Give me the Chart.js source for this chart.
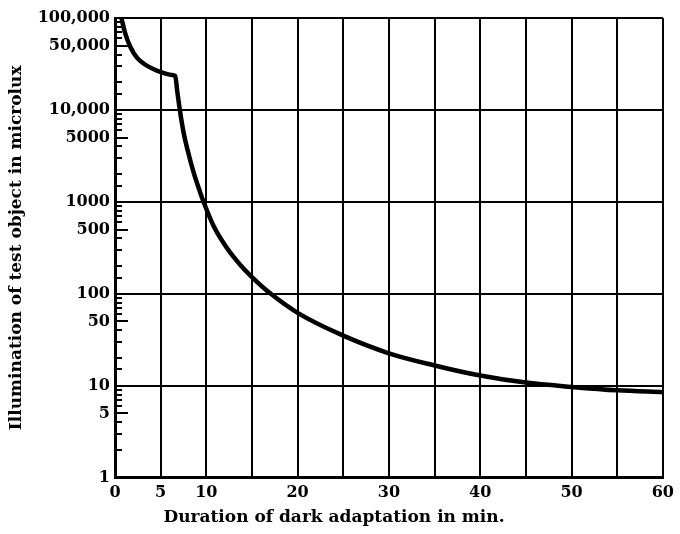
<!DOCTYPE html>
<html>
<head>
<meta charset="utf-8">
<script src="https://cdn.jsdelivr.net/npm/chart.js@4/dist/chart.umd.min.js"></script>
<style>
html, body { margin: 0; padding: 0; background: #fff; }
</style>
</head>
<body>
<canvas id="adaptation-chart" width="680" height="534"></canvas>
<script>
// curve (minutes, microlux)
var minutes = [0.7, 1.1, 1.7, 2.4, 3.2, 4.3, 5.2, 6.2, 6.6, 6.8, 7.1, 7.5, 8.0, 8.6, 9.3, 9.7, 10.8, 12.2, 13.7, 15, 17, 20, 25, 30, 35, 40, 45, 50, 55, 60];
var microlux = [100000, 69000, 48000, 37000, 31600, 27500, 25400, 24000, 23400, 16500, 10000, 5750, 3500, 2100, 1290, 1000, 545, 320, 207, 152, 101, 62, 35, 22.5, 16.6, 12.9, 10.8, 9.7, 8.9, 8.5];

var xLabelTicks = [0, 5, 10, 20, 30, 40, 50, 60];
var yLabelTicks = [1, 5, 10, 50, 100, 500, 1000, 5000, 10000, 50000, 100000];
var yLabelText = ['1', '5', '10', '50', '100', '500', '1000', '5000', '10,000', '50,000', '100,000'];

var serif = 'DejaVu Serif';

function mantissa(v) {
    return Math.round(v / Math.pow(10, Math.floor(Math.log10(v) + 1e-9)));
}

// short inward tick marks on the left axis for the log subdivisions
var minorTicks = {
    id: 'minorTicks',
    afterDraw: function (chart) {
        var y = chart.scales.y;
        var left = chart.chartArea.left;
        var ctx = chart.ctx;
        ctx.save();
        ctx.strokeStyle = '#000';
        ctx.lineWidth = 2;
        y.ticks.forEach(function (t) {
            var m = mantissa(t.value);
            if (m === 1) return;
            var len = m === 5 ? 13 : 7;
            var py = Math.round(y.getPixelForValue(t.value));
            ctx.beginPath();
            ctx.moveTo(left, py);
            ctx.lineTo(left + len, py);
            ctx.stroke();
        });
        ctx.restore();
    }
};

var points = minutes.map(function (m, i) { return { x: m, y: microlux[i] }; });

new Chart(document.getElementById('adaptation-chart'), {
    type: 'line',
    data: {
        datasets: [{
            data: points,
            borderColor: '#000',
            borderWidth: 4.5,
            pointRadius: 0,
            cubicInterpolationMode: 'monotone',
            fill: false
        }]
    },
    options: {
        responsive: false,
        animation: false,
        layout: { padding: { top: 18, right: 12, bottom: 0, left: 0 } },
        plugins: {
            legend: { display: false },
            tooltip: { enabled: false },
            title: {
                display: true,
                position: 'bottom',
                text: 'Duration of dark adaptation in min.',
                color: '#000',
                font: { family: serif, size: 17, weight: 'bold' },
                padding: { top: 2, bottom: 6 }
            }
        },
        scales: {
            x: {
                type: 'linear',
                min: 0,
                max: 60,
                afterFit: function (scale) { scale.height = 28; },
                border: { color: '#000', width: 3 },
                grid: { color: '#000', lineWidth: 2, drawTicks: false },
                ticks: {
                    stepSize: 5,
                    autoSkip: false,
                    maxRotation: 0,
                    padding: 6,
                    color: '#000',
                    font: { family: serif, size: 16, weight: 'bold' },
                    callback: function (val) {
                        return xLabelTicks.indexOf(val) >= 0 ? String(val) : '';
                    }
                }
            },
            y: {
                type: 'logarithmic',
                min: 1,
                max: 100000,
                afterFit: function (scale) { scale.width = 115; },
                border: { color: '#000', width: 3 },
                grid: {
                    drawTicks: false,
                    lineWidth: 2,
                    color: function (c) {
                        return c.tick && mantissa(c.tick.value) === 1 ? '#000' : 'rgba(0,0,0,0)';
                    }
                },
                ticks: {
                    autoSkip: false,
                    padding: 5,
                    color: '#000',
                    font: { family: serif, size: 16, weight: 'bold' },
                    callback: function (val) {
                        var i = yLabelTicks.indexOf(val);
                        return i >= 0 ? yLabelText[i] : '';
                    }
                },
                title: {
                    display: true,
                    text: 'Illumination of test object in microlux',
                    color: '#000',
                    font: { family: serif, size: 17, weight: 'bold' },
                    padding: { top: 6, bottom: 0 }
                }
            }
        }
    },
    plugins: [minorTicks]
});
</script>
</body>
</html>
